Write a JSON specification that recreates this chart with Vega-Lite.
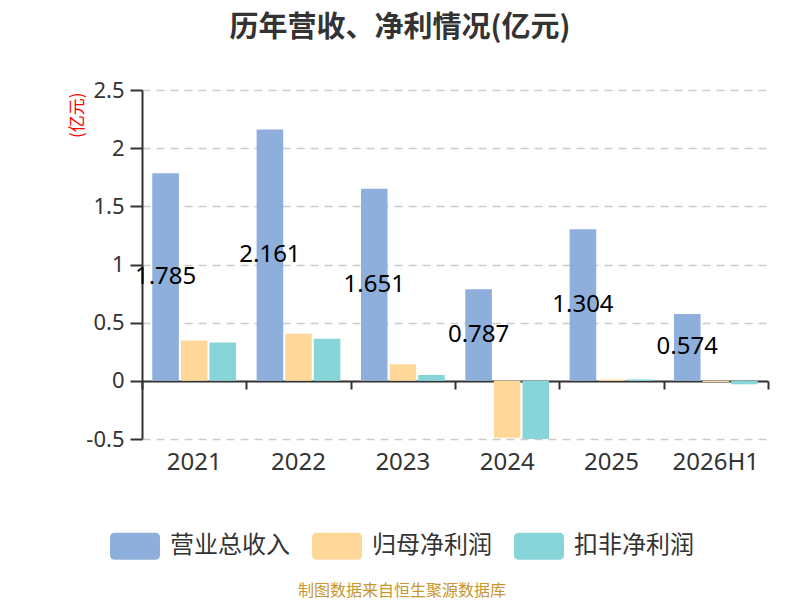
{
  "$schema": "https://vega.github.io/schema/vega-lite/v6.json",
  "width": 626,
  "height": 349,
  "autosize": "none",
  "padding": {"left": 142, "top": 90, "right": 32, "bottom": 161},
  "config": {
    "font": "Noto Sans, Noto Sans CJK SC",
    "view": {"stroke": null}
  },
  "title": {
    "text": "历年营收、净利情况(亿元)",
    "font": "Noto Sans CJK SC",
    "fontSize": 29,
    "fontWeight": "bold",
    "color": "#333333",
    "anchor": "middle",
    "dx": -55,
    "offset": 36
  },
  "data": {
    "values": [
      {"year": "2021", "type": "营业总收入", "value": 1.785},
      {"year": "2021", "type": "归母净利润", "value": 0.346},
      {"year": "2021", "type": "扣非净利润", "value": 0.33},
      {"year": "2022", "type": "营业总收入", "value": 2.161},
      {"year": "2022", "type": "归母净利润", "value": 0.404},
      {"year": "2022", "type": "扣非净利润", "value": 0.361},
      {"year": "2023", "type": "营业总收入", "value": 1.651},
      {"year": "2023", "type": "归母净利润", "value": 0.143},
      {"year": "2023", "type": "扣非净利润", "value": 0.05},
      {"year": "2024", "type": "营业总收入", "value": 0.787},
      {"year": "2024", "type": "归母净利润", "value": -0.49},
      {"year": "2024", "type": "扣非净利润", "value": -0.5},
      {"year": "2025", "type": "营业总收入", "value": 1.304},
      {"year": "2025", "type": "归母净利润", "value": 0.01},
      {"year": "2025", "type": "扣非净利润", "value": 0.012},
      {"year": "2026H1", "type": "营业总收入", "value": 0.574},
      {"year": "2026H1", "type": "归母净利润", "value": -0.01},
      {"year": "2026H1", "type": "扣非净利润", "value": -0.03}
    ]
  },
  "resolve": {"axis": {"x": "independent"}, "scale": {"y": "independent"}},
  "layer": [
    {
      "mark": {"type": "bar"},
      "encoding": {
        "x": {
          "field": "year",
          "type": "nominal",
          "sort": null,
          "scale": {"paddingInner": 0, "paddingOuter": 0},
          "axis": {
            "orient": "bottom",
            "title": null,
            "domain": false,
            "ticks": false,
            "labelAngle": 0,
            "labelFontSize": 24,
            "labelColor": "#333333",
            "labelPadding": 11
          }
        },
        "xOffset": {
          "field": "type",
          "type": "nominal",
          "scale": {
            "domain": ["营业总收入", "归母净利润", "扣非净利润"],
            "paddingInner": 0.07,
            "paddingOuter": 0.36
          }
        },
        "y": {
          "field": "value",
          "type": "quantitative",
          "scale": {"domain": [-0.5, 2.5], "nice": false, "zero": false},
          "axis": {
            "values": [-0.5, 0, 0.5, 1, 1.5, 2, 2.5],
            "labelExpr": "'' + datum.value",
            "labelFontSize": 22,
            "labelColor": "#333333",
            "labelPadding": 6,
            "tickSize": 12,
            "tickWidth": 2,
            "tickColor": "#333333",
            "domainColor": "#333333",
            "domainWidth": 2,
            "gridColor": "#cccccc",
            "gridWidth": 1.5,
            "gridDash": [8, 6],
            "title": "(亿元)",
            "titleFont": "Noto Sans CJK SC",
            "titleColor": "#ff0000",
            "titleFontSize": 17,
            "titleFontWeight": "normal",
            "titleAngle": -90,
            "titleX": -65,
            "titleY": 2,
            "titleAlign": "right",
            "titleBaseline": "middle"
          }
        },
        "color": {
          "field": "type",
          "type": "nominal",
          "scale": {
            "domain": ["营业总收入", "归母净利润", "扣非净利润"],
            "range": ["#8eaedb", "#ffd899", "#88d5d9"]
          },
          "legend": {
            "orient": "none",
            "direction": "horizontal",
            "legendX": -32,
            "legendY": 431,
            "symbolType": "M-0.8,-0.54 L0.8,-0.54 Q1,-0.54 1,-0.34 L1,0.34 Q1,0.54 0.8,0.54 L-0.8,0.54 Q-1,0.54 -1,0.34 L-1,-0.34 Q-1,-0.54 -0.8,-0.54 Z",
            "symbolSize": 2500,
            "symbolStrokeWidth": 0,
            "symbolOpacity": 1,
            "labelFont": "Noto Sans CJK SC",
            "labelFontSize": 24,
            "labelColor": "#333333",
            "labelOffset": 10,
            "labelLimit": 300,
            "columnPadding": 22,
            "title": "制图数据来自恒生聚源数据库",
            "titleOrient": "bottom",
            "titleAnchor": "middle",
            "titleFont": "Noto Sans CJK SC",
            "titleFontSize": 16,
            "titleFontWeight": "normal",
            "titleColor": "#c8962e",
            "titlePadding": 23,
            "titleLimit": 600
          }
        }
      }
    },
    {
      "transform": [{"filter": "datum.type === '营业总收入'"}],
      "mark": {"type": "text", "fontSize": 24, "color": "#000000"},
      "encoding": {
        "x": {
          "field": "year",
          "type": "nominal",
          "sort": null,
          "axis": {
            "orient": "bottom",
            "title": null,
            "labels": false,
            "grid": false,
            "offset": -58,
            "domain": true,
            "domainColor": "#333333",
            "domainWidth": 2,
            "ticks": true,
            "tickBand": "extent",
            "tickSize": 8,
            "tickWidth": 2,
            "tickColor": "#333333"
          }
        },
        "xOffset": {"field": "type", "type": "nominal"},
        "y": {
          "field": "value",
          "type": "quantitative",
          "scale": {"domain": [-1, 5], "nice": false, "zero": false},
          "axis": null
        },
        "text": {"field": "value", "type": "quantitative", "format": ".3f"}
      }
    }
  ]
}
